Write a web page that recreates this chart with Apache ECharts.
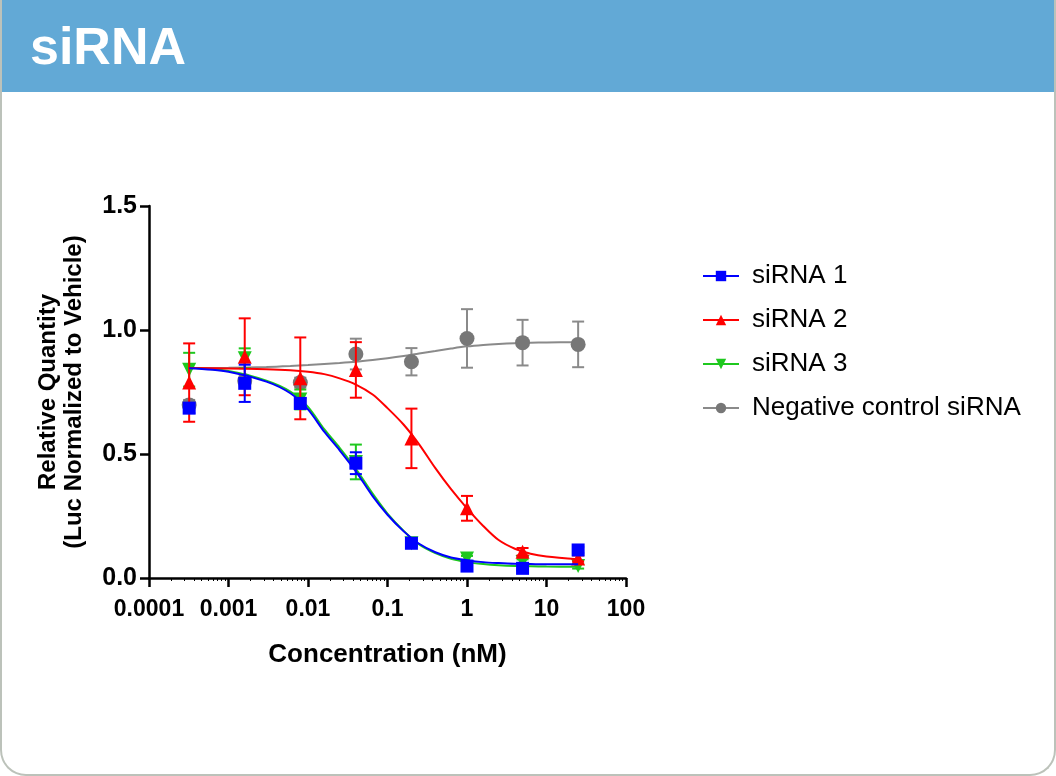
<!DOCTYPE html>
<html>
<head>
<meta charset="utf-8">
<title>siRNA</title>
<script src="https://cdn.jsdelivr.net/npm/echarts@6/dist/echarts.min.js"></script>
<style>
  html, body { margin: 0; padding: 0; background: #fff; }
  #card {
    position: absolute; left: 0; top: 0; width: 1056px; height: 776px;
    box-sizing: border-box; border: 2px solid #bcc2ba; border-top: none;
    border-radius: 0 0 26px 26px; background: #fff; overflow: hidden;
  }
  #header {
    position: absolute; left: 0; top: 0; width: 1056px; height: 92px;
    background: #62a9d6; color: #fff;
    font-family: 'Liberation Sans', Arial, sans-serif; font-weight: bold;
    font-size: 52px; line-height: 92px; padding-left: 28px; box-sizing: border-box;
  }
  #chart { position: absolute; left: 0; top: 0; width: 1056px; height: 776px; }
</style>
</head>
<body>
<div id="card"><div id="header">siRNA</div></div>
<div id="chart"></div>
<script>
// 浓度 (nM)，5倍稀释
const concentrations = [0.00032, 0.0016, 0.008, 0.04, 0.2, 1, 5, 25];

// 各组均值与误差
const sirna1Mean = [0.685, 0.785, 0.704, 0.463, 0.140, 0.048, 0.039, 0.113];
const sirna1Err  = [0.020, 0.075, 0.020, 0.044, 0.012, 0.010, 0.010, 0.012];
const sirna2Mean = [0.788, 0.892, 0.805, 0.839, 0.563, 0.281, 0.106, 0.079];
const sirna2Err  = [0.158, 0.155, 0.165, 0.112, 0.120, 0.050, 0.015, 0.012];
const sirna3Mean = [0.840, 0.886, 0.720, 0.468, 0.140, 0.079, 0.065, 0.048];
const sirna3Err  = [0.068, 0.040, 0.040, 0.070, 0.010, 0.010, 0.010, 0.010];
const negMean    = [0.698, 0.795, 0.788, 0.903, 0.872, 0.966, 0.949, 0.942];
const negErr     = [0.020, 0.020, 0.020, 0.062, 0.055, 0.118, 0.092, 0.092];

// 拟合曲线（从图上沿曲线读出的点）
const curveConc   = [0.00032, 0.001, 0.003, 0.006, 0.01, 0.016, 0.025, 0.04, 0.065, 0.1, 0.16,
                     0.25, 0.4, 0.63, 1, 1.6, 2.5, 4, 6.3, 10, 25];
const sirna1Curve = [0.846, 0.832, 0.792, 0.745, 0.680, 0.590, 0.515, 0.430, 0.330, 0.255, 0.188,
                     0.138, 0.104, 0.083, 0.072, 0.064, 0.060, 0.057, 0.056, 0.055, 0.055];
const sirna2Curve = [0.847, 0.845, 0.842, 0.838, 0.832, 0.822, 0.805, 0.780, 0.740, 0.685, 0.618,
                     0.539, 0.443, 0.358, 0.281, 0.210, 0.153, 0.118, 0.098, 0.087, 0.076];
const sirna3Curve = [0.848, 0.835, 0.796, 0.752, 0.690, 0.600, 0.525, 0.440, 0.340, 0.260, 0.190,
                     0.135, 0.100, 0.077, 0.064, 0.056, 0.051, 0.048, 0.047, 0.046, 0.045];
const negCurve    = [0.846, 0.848, 0.851, 0.855, 0.859, 0.863, 0.867, 0.872, 0.879, 0.886, 0.895,
                     0.905, 0.915, 0.925, 0.934, 0.940, 0.944, 0.947, 0.949, 0.950, 0.951];

const FONT = "'Liberation Sans', Arial, sans-serif";

const groups = [
  // z 越大越靠上：灰 < 绿 < 红 < 蓝
  { name: 'siRNA 1', mean: sirna1Mean, err: sirna1Err, curve: sirna1Curve, color: '#0000ff', line: '#0000ff', symbol: 'rect', size: 13, rotate: 0, z: 8 },
  { name: 'siRNA 2', mean: sirna2Mean, err: sirna2Err, curve: sirna2Curve, color: '#ff0000', line: '#ff0000', symbol: 'triangle', size: 14, rotate: 0, z: 6 },
  { name: 'siRNA 3', mean: sirna3Mean, err: sirna3Err, curve: sirna3Curve, color: '#1ec81e', line: '#1ec81e', symbol: 'triangle', size: 14, rotate: 180, z: 4 },
  { name: 'Negative control siRNA', mean: negMean, err: negErr, curve: negCurve, color: '#777777', line: '#8a8a8a', symbol: 'circle', size: 15, rotate: 0, z: 2 }
];

function errorBarRender(color) {
  return function(params, api) {
    const top = api.coord([api.value(0), api.value(2)]);
    const bot = api.coord([api.value(0), api.value(1)]);
    const w = 6;
    const style = { stroke: color, lineWidth: 2 };
    return {
      type: 'group',
      children: [
        { type: 'line', shape: { x1: top[0], y1: top[1], x2: bot[0], y2: bot[1] }, style: style },
        { type: 'line', shape: { x1: top[0] - w, y1: top[1], x2: top[0] + w, y2: top[1] }, style: style },
        { type: 'line', shape: { x1: bot[0] - w, y1: bot[1], x2: bot[0] + w, y2: bot[1] }, style: style }
      ]
    };
  };
}

const series = [];
groups.forEach(g => {
  series.push({
    name: g.name,
    type: 'line',
    data: curveConc.map((c, i) => [c, g.curve[i]]),
    smooth: 0.3,
    showSymbol: false,
    symbol: g.symbol,
    symbolRotate: g.rotate,
    itemStyle: { color: g.color },
    lineStyle: { color: g.line, width: 2 },
    z: g.z,
    silent: true
  });
  series.push({
    name: g.name + ' err',
    type: 'custom',
    data: concentrations.map((c, i) => [c, g.mean[i] - g.err[i], g.mean[i] + g.err[i]]),
    renderItem: errorBarRender(g.line),
    z: g.z + 0.5,
    silent: true
  });
  series.push({
    name: g.name + ' pts',
    type: 'scatter',
    data: concentrations.map((c, i) => [c, g.mean[i]]),
    symbol: g.symbol,
    symbolSize: g.size,
    symbolRotate: g.rotate,
    itemStyle: { color: g.color, opacity: 1 },
    z: g.z + 1,
    silent: true
  });
});

const chart = echarts.init(document.getElementById('chart'));
chart.setOption({
  animation: false,
  grid: { left: 149, right: 430, top: 206, bottom: 198 },
  legend: {
    data: groups.map(g => g.name),
    orient: 'vertical',
    left: 697,
    top: 258,
    itemWidth: 36,
    itemHeight: 13,
    itemGap: 18,
    selectedMode: false,
    textStyle: { color: '#000', fontFamily: FONT, fontSize: 26, padding: [0, 0, 0, 8] }
  },
  xAxis: {
    type: 'log',
    logBase: 10,
    min: 0.0001,
    max: 100,
    name: 'Concentration (nM)',
    nameLocation: 'middle',
    nameGap: 64,
    nameTextStyle: { color: '#000', fontFamily: FONT, fontWeight: 'bold', fontSize: 26 },
    axisLine: { lineStyle: { color: '#000', width: 2.5 } },
    axisTick: { length: 9, lineStyle: { color: '#000', width: 2.5 } },
    minorTick: { show: true, splitNumber: 10, length: 3, lineStyle: { color: '#000', width: 1 } },
    splitLine: { show: false },
    axisLabel: {
      color: '#000', fontFamily: FONT, fontWeight: 'bold', fontSize: 23, margin: 20,
      formatter: v => String(parseFloat(v.toPrecision(2)))
    }
  },
  yAxis: {
    type: 'value',
    min: 0,
    max: 1.5,
    interval: 0.5,
    name: 'Relative Quantity\n(Luc Normalized to Vehicle)',
    nameLocation: 'middle',
    nameGap: 62,
    nameTextStyle: { color: '#000', fontFamily: FONT, fontWeight: 'bold', fontSize: 24, lineHeight: 26 },
    axisLine: { show: true, lineStyle: { color: '#000', width: 2.5 } },
    axisTick: { show: true, length: 9, lineStyle: { color: '#000', width: 2.5 } },
    splitLine: { show: false },
    axisLabel: {
      color: '#000', fontFamily: FONT, fontWeight: 'bold', fontSize: 25, margin: 12,
      formatter: v => v.toFixed(1)
    }
  },
  series: series
});
</script>
</body>
</html>
